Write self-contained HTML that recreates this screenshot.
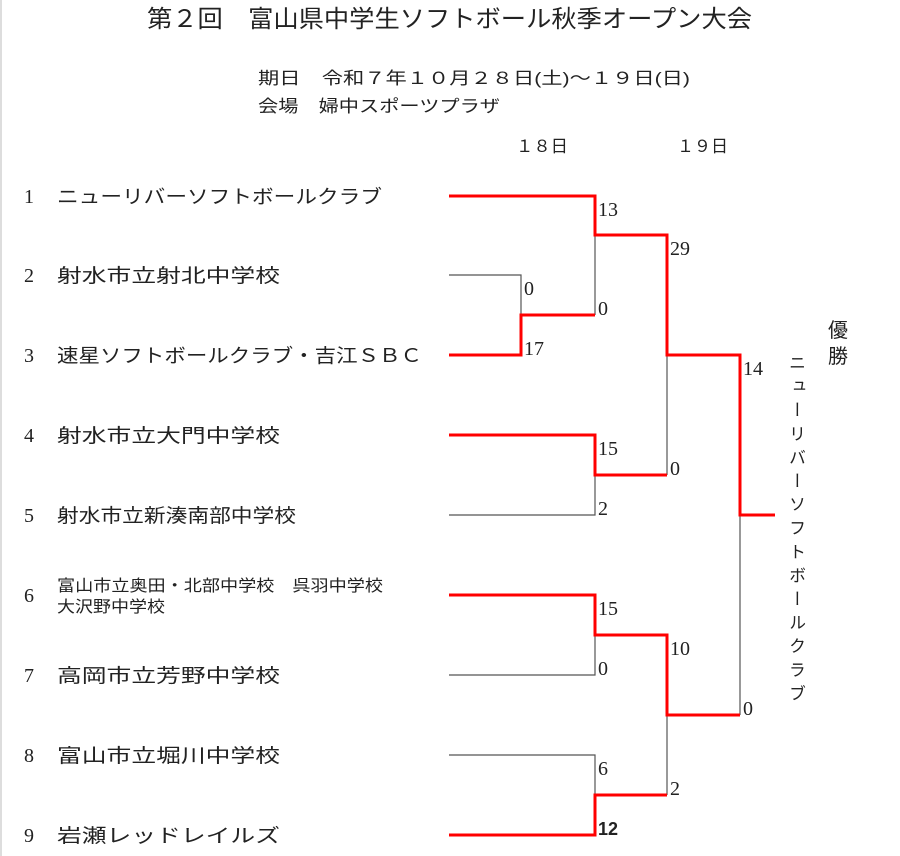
<!DOCTYPE html>
<html><head><meta charset="utf-8"><style>
html,body{margin:0;padding:0;background:#fff;}
body{width:900px;height:856px;position:relative;overflow:hidden;}
svg{position:absolute;left:0;top:0;}
text{font-family:"Liberation Serif","Noto Serif CJK SC","Noto Sans CJK JP",serif;fill:#222;}
.j{font-family:"Liberation Sans","Noto Sans CJK JP",sans-serif;}
.v{position:absolute;left:784px;top:354px;writing-mode:vertical-rl;font-family:"Liberation Sans","Noto Sans CJK JP",sans-serif;font-size:17px;letter-spacing:6.6px;color:#222;line-height:22px;}
</style></head><body>
<svg width="900" height="856" viewBox="0 0 900 856">
<line x1="1" y1="0" x2="1" y2="856" stroke="#ddd" stroke-width="2"/>
<text x="147" y="27" font-size="24" textLength="605" lengthAdjust="spacingAndGlyphs" class="j">第２回　富山県中学生ソフトボール秋季オープン大会</text>
<text class="j" x="258" y="84" font-size="17" textLength="432" lengthAdjust="spacingAndGlyphs">期日　令和７年１０月２８日(土)～１９日(日)</text>
<text class="j" x="258" y="112" font-size="17" textLength="242" lengthAdjust="spacingAndGlyphs">会場　婦中スポーツプラザ</text>
<text class="j" x="516" y="152" font-size="17" textLength="52" lengthAdjust="spacingAndGlyphs">１８日</text>
<text class="j" x="677" y="152" font-size="17" textLength="51" lengthAdjust="spacingAndGlyphs">１９日</text>

<g font-size="20">
<text x="24" y="203">1</text><text x="24" y="282">2</text><text x="24" y="362">3</text>
<text x="24" y="442">4</text><text x="24" y="522">5</text><text x="24" y="602">6</text>
<text x="24" y="682">7</text><text x="24" y="762">8</text><text x="24" y="842">9</text>
</g>
<g class="j" font-size="19">
<text class="j" x="57" y="203" textLength="325" lengthAdjust="spacingAndGlyphs">ニューリバーソフトボールクラブ</text>
<text class="j" x="57" y="282" textLength="223" lengthAdjust="spacingAndGlyphs">射水市立射北中学校</text>
<text class="j" x="57" y="362" textLength="365" lengthAdjust="spacingAndGlyphs">速星ソフトボールクラブ・吉江ＳＢＣ</text>
<text class="j" x="57" y="442" textLength="223" lengthAdjust="spacingAndGlyphs">射水市立大門中学校</text>
<text class="j" x="57" y="522" textLength="239" lengthAdjust="spacingAndGlyphs">射水市立新湊南部中学校</text>
<text class="j" x="57" y="591" font-size="16" textLength="326" lengthAdjust="spacingAndGlyphs">富山市立奥田・北部中学校　呉羽中学校</text>
<text class="j" x="57" y="612" font-size="16" textLength="108" lengthAdjust="spacingAndGlyphs">大沢野中学校</text>
<text class="j" x="57" y="682" textLength="223" lengthAdjust="spacingAndGlyphs">高岡市立芳野中学校</text>
<text class="j" x="57" y="762" textLength="223" lengthAdjust="spacingAndGlyphs">富山市立堀川中学校</text>
<text class="j" x="57" y="842" textLength="223" lengthAdjust="spacingAndGlyphs">岩瀬レッドレイルズ</text>
</g>

<g stroke="#555" stroke-width="1.2" fill="none">
<polyline points="449,275 521,275 521,315"/>
<polyline points="595,235 595,315"/>
<polyline points="449,515 595,515 595,475"/>
<polyline points="449,675 595,675 595,635"/>
<polyline points="449,755 595,755 595,795"/>
<polyline points="667,355 667,475"/>
<polyline points="667,715 667,795"/>
<polyline points="740,515 740,715"/>
</g>
<g stroke="#f00" stroke-width="3" fill="none">
<polyline points="449,196 595,196 595,235 667,235 667,355 740,355 740,515 775,515"/>
<polyline points="449,355 521,355 521,315 595,315"/>
<polyline points="449,435 595,435 595,475 667,475"/>
<polyline points="449,595 595,595 595,635 667,635 667,715 740,715"/>
<polyline points="449,835 595,835 595,795 667,795"/>
</g>
<g font-size="20">
<text x="598" y="216">13</text>
<text x="524" y="295">0</text>
<text x="524" y="355">17</text>
<text x="598" y="315">0</text>
<text x="670" y="255">29</text>
<text x="598" y="455">15</text>
<text x="598" y="515">2</text>
<text x="670" y="475">0</text>
<text x="743" y="375">14</text>
<text x="598" y="615">15</text>
<text x="598" y="675">0</text>
<text x="670" y="655">10</text>
<text x="743" y="715">0</text>
<text x="598" y="775">6</text>
<text x="670" y="795">2</text>
<text class="j" x="598" y="835" font-weight="bold" font-size="18">12</text>
</g>
<text class="j" x="828" y="337" font-size="20">優</text>
<text class="j" x="828" y="363" font-size="20">勝</text>
</svg>
<div class="v">ニューリバーソフトボールクラブ</div>
</body></html>
